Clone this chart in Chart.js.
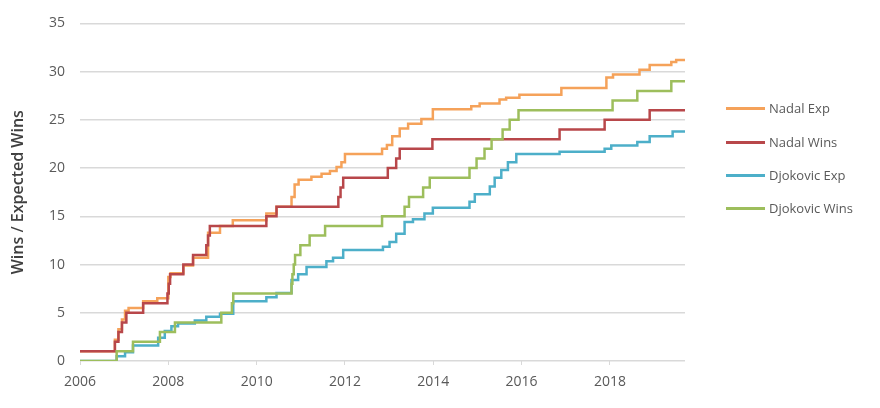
<!DOCTYPE html>
<html>
<head>
<meta charset="utf-8">
<script src="https://cdn.jsdelivr.net/npm/chart.js@4.4.0/dist/chart.umd.min.js"></script>
<style>
  html, body { margin:0; padding:0; background:#fff; }
  #wrap { position:relative; width:880px; height:408px; }
  #legend { position:absolute; left:726px; top:0; font-family:"Open Sans", sans-serif; font-size:13px; color:#595959; }
  .item { position:absolute; left:0; white-space:nowrap; display:flex; align-items:center; }
  .swatch { display:inline-block; width:39px; height:3px; margin-right:4px; }
</style>
</head>
<body>
<div id="wrap">
  <canvas id="myChart" width="880" height="408"></canvas>
  <div id="legend"></div>
</div>
<script>
// series data (x = year, y = cumulative count)
const nadalExpYears = [2006, 2006.79, 2006.87, 2006.95, 2007.02, 2007.1, 2007.43, 2007.75, 2008.0, 2008.05, 2008.34, 2008.56, 2008.9, 2009.17, 2009.46, 2010.22, 2010.45, 2010.79, 2010.86, 2010.95, 2011.24, 2011.47, 2011.66, 2011.81, 2011.92, 2012.0, 2012.84, 2012.95, 2013.07, 2013.24, 2013.43, 2013.73, 2013.99, 2014.86, 2015.05, 2015.5, 2015.65, 2015.95, 2016.9, 2017.92, 2018.07, 2018.67, 2018.9, 2019.39, 2019.5, 2019.7]
const nadalExpVals = [1.0, 2.2, 3.3, 4.3, 5.2, 5.5, 6.2, 6.5, 8.7, 9.1, 9.9, 10.7, 13.3, 14.0, 14.6, 15.3, 16.0, 17.0, 18.3, 18.8, 19.1, 19.4, 19.7, 20.1, 20.6, 21.45, 22.0, 22.4, 23.3, 24.1, 24.6, 25.1, 26.1, 26.4, 26.7, 27.1, 27.3, 27.6, 28.3, 29.4, 29.7, 30.2, 30.7, 31.0, 31.2, 31.2]

const nadalWinsYears = [2006, 2006.79, 2006.87, 2006.95, 2007.05, 2007.43, 2007.98, 2008.01, 2008.04, 2008.34, 2008.56, 2008.86, 2008.9, 2008.94, 2010.22, 2010.45, 2011.85, 2011.9, 2011.96, 2012.97, 2013.16, 2013.24, 2013.98, 2016.86, 2017.88, 2018.9, 2019.7]
const nadalWinsVals = [1, 2, 3, 4, 5, 6, 7, 8, 9, 10, 11, 12, 13, 14, 15, 16, 17, 18, 19, 20, 21, 22, 23, 24, 25, 26, 26]

const djokExpYears = [2006, 2006.83, 2007.02, 2007.2, 2007.77, 2007.92, 2008.07, 2008.22, 2008.6, 2008.86, 2009.17, 2009.47, 2010.22, 2010.45, 2010.79, 2010.94, 2011.13, 2011.58, 2011.73, 2011.96, 2012.86, 2013.01, 2013.16, 2013.35, 2013.54, 2013.8, 2013.99, 2014.82, 2014.94, 2015.28, 2015.39, 2015.54, 2015.69, 2015.88, 2016.86, 2017.88, 2018.03, 2018.62, 2018.9, 2019.42, 2019.7]
const djokExpVals = [0, 0.5, 0.9, 1.6, 2.4, 3.1, 3.6, 3.9, 4.2, 4.6, 4.9, 6.2, 6.6, 7.05, 8.4, 9.0, 9.75, 10.35, 10.7, 11.5, 11.85, 12.35, 13.2, 14.4, 14.7, 15.3, 15.9, 16.5, 17.3, 18.1, 19.0, 19.8, 20.6, 21.45, 21.7, 22.0, 22.35, 22.7, 23.3, 23.8, 23.8]

const djokWinsYears = [2006, 2006.83, 2007.2, 2007.81, 2008.15, 2009.2, 2009.44, 2009.47, 2010.79, 2010.81, 2010.84, 2010.87, 2010.99, 2011.2, 2011.55, 2012.84, 2013.35, 2013.45, 2013.77, 2013.92, 2014.82, 2014.98, 2015.16, 2015.32, 2015.57, 2015.73, 2015.93, 2018.06, 2018.62, 2019.39, 2019.7]
const djokWinsVals = [0, 1, 2, 3, 4, 5, 6, 7, 8, 9, 10, 11, 12, 13, 14, 15, 16, 17, 18, 19, 20, 21, 22, 23, 24, 25, 26, 27, 28, 29, 29]

const seriesLabels = ["Nadal Exp", "Nadal Wins", "Djokovic Exp", "Djokovic Wins"]
const seriesColors = ["#F5A25A", "#B8474A", "#4DAFC9", "#9DBE5C"]
const xTicks = [2006, 2008, 2010, 2012, 2014, 2016, 2018]
const yTicks = [0, 5, 10, 15, 20, 25, 30, 35]

function toPoints(xs, ys) {
    return xs.map((x, i) => ({x: x, y: ys[i]}))
}

const seriesData = [
    toPoints(nadalExpYears, nadalExpVals),
    toPoints(nadalWinsYears, nadalWinsVals),
    toPoints(djokExpYears, djokExpVals),
    toPoints(djokWinsYears, djokWinsVals)
]
// red over orange, green over blue
const drawOrder = [4, 3, 2, 1]

const datasets = seriesLabels.map((label, i) => ({
    label: label,
    data: seriesData[i],
    borderColor: seriesColors[i],
    backgroundColor: seriesColors[i],
    borderWidth: 2.5,
    pointRadius: 0,
    stepped: true,
    fill: false,
    order: drawOrder[i]
}))

const myChart = document.getElementById("myChart")
const chart = new Chart(myChart, {
    type: 'line',
    data: { datasets: datasets },
    options: {
        responsive: false,
        animation: false,
        layout: { padding: { top: 8, right: 195, left: 0, bottom: 0 } },
        plugins: { legend: { display: false }, tooltip: { enabled: false } },
        scales: {
            x: {
                type: 'linear',
                min: 2006,
                max: 2019.7,
                afterBuildTicks: (scale) => { scale.ticks = xTicks.map(v => ({value: v})) },
                afterFit: (scale) => { scale.height = 47 },
                grid: { drawOnChartArea: false, drawTicks: true, tickLength: 4, color: '#D9D9D9' },
                border: { display: false },
                ticks: {
                    color: '#595959',
                    font: { family: 'Open Sans', size: 14 },
                    padding: 9,
                    maxRotation: 0,
                    callback: (v) => String(v)
                }
            },
            y: {
                min: 0,
                max: 35,
                afterBuildTicks: (scale) => { scale.ticks = yTicks.map(v => ({value: v})) },
                afterFit: (scale) => { scale.width = 80 },
                grid: { color: '#D9D9D9', lineWidth: 1.5, drawTicks: false },
                border: { display: false },
                ticks: {
                    color: '#595959',
                    font: { family: 'Open Sans', size: 14 },
                    padding: 15,
                    callback: (v) => String(v)
                },
                title: {
                    display: true,
                    text: 'Wins / Expected Wins',
                    color: '#404040',
                    font: { family: 'Open Sans', size: 16, weight: '600' },
                    padding: { top: 9, bottom: 2 }
                }
            }
        }
    }
})

// legend on the right
const legendTops = [108, 142, 175, 208]
const legend = document.getElementById("legend")
seriesLabels.forEach((label, i) => {
    const item = document.createElement("div")
    item.setAttribute("class", "item")
    item.style.top = (legendTops[i] - 9) + "px"
    item.style.height = "18px"
    const sw = document.createElement("span")
    sw.setAttribute("class", "swatch")
    sw.style.background = seriesColors[i]
    const txt = document.createElement("span")
    txt.innerHTML = label
    item.appendChild(sw)
    item.appendChild(txt)
    legend.appendChild(item)
})
</script>
</body>
</html>
